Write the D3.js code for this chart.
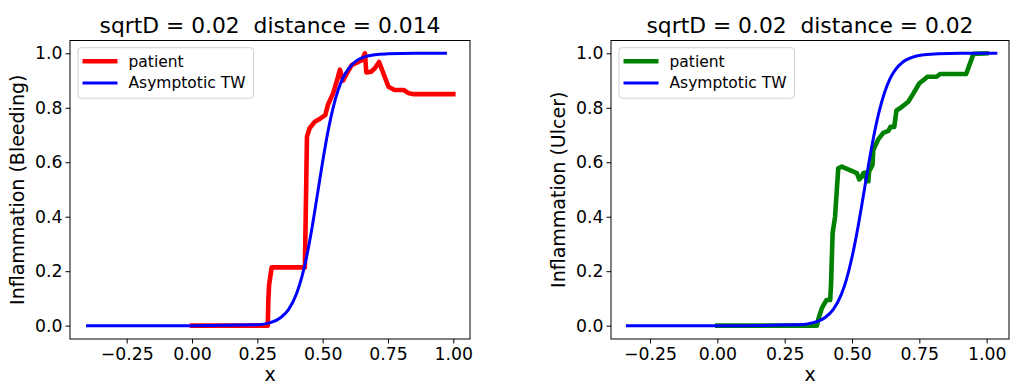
<!DOCTYPE html>
<html>
<head>
<meta charset="utf-8">
<script src="https://cdn.jsdelivr.net/npm/d3@7"></script>
<style>
  html, body { margin: 0; padding: 0; background: #fff; }
  svg { display: block; font-family: "DejaVu Sans", sans-serif; }
</style>
</head>
<body>
<svg id="chart" width="1010" height="383"></svg>
<script>
// ---------- data ----------
const titles = ["sqrtD = 0.02  distance = 0.014", "sqrtD = 0.02  distance = 0.02"];
const yLabels = ["Inflammation (Bleeding)", "Inflammation (Ulcer)"];
const xLabel = "x";
const legendLabels = ["patient", "Asymptotic TW"];

const xTicks = [-0.25, 0, 0.25, 0.5, 0.75, 1.0];
const xTickLabels = ["\u22120.25", "0.00", "0.25", "0.50", "0.75", "1.00"];
const yTicks = [0, 0.2, 0.4, 0.6, 0.8, 1.0];
const yTickLabels = ["0.0", "0.2", "0.4", "0.6", "0.8", "1.0"];

// left panel: patient (Bleeding)
const bleedX = [0, 0.29, 0.292, 0.295, 0.305, 0.432, 0.436, 0.44, 0.45, 0.47, 0.49, 0.51, 0.52, 0.54, 0.555, 0.566, 0.578, 0.595, 0.611, 0.63, 0.65, 0.662, 0.667, 0.685, 0.70, 0.716, 0.735, 0.752, 0.775, 0.81, 0.83, 0.85, 1.0];
const bleedY = [0, 0, 0.09, 0.15, 0.214, 0.214, 0.45, 0.694, 0.725, 0.749, 0.76, 0.773, 0.81, 0.853, 0.90, 0.94, 0.90, 0.93, 0.957, 0.965, 0.975, 1.0, 0.93, 0.932, 0.945, 0.968, 0.92, 0.877, 0.865, 0.865, 0.853, 0.85, 0.85];
// left panel: asymptotic travelling wave
const twLeftX = [-0.4, 0.0, 0.25, 0.30, 0.34, 0.37, 0.40, 0.42, 0.44, 0.46, 0.48, 0.50, 0.52, 0.54, 0.56, 0.58, 0.60, 0.63, 0.66, 0.70, 0.75, 0.85, 0.97];
const twLeftY = [0, 0, 0.003, 0.011, 0.030, 0.060, 0.117, 0.177, 0.259, 0.363, 0.482, 0.602, 0.711, 0.800, 0.867, 0.914, 0.945, 0.973, 0.987, 0.995, 0.998, 1.0, 1.0];

// right panel: patient (Ulcer)
const ulcerX = [0, 0.37, 0.375, 0.388, 0.405, 0.419, 0.422, 0.428, 0.437, 0.449, 0.462, 0.518, 0.527, 0.535, 0.542, 0.548, 0.555, 0.561, 0.563, 0.576, 0.579, 0.598, 0.616, 0.635, 0.643, 0.657, 0.665, 0.678, 0.709, 0.728, 0.75, 0.77, 0.78, 0.814, 0.827, 0.924, 0.951, 1.0];
const ulcerY = [0, 0, 0.025, 0.064, 0.094, 0.094, 0.15, 0.34, 0.40, 0.578, 0.584, 0.56, 0.537, 0.545, 0.56, 0.562, 0.53, 0.53, 0.565, 0.59, 0.645, 0.685, 0.708, 0.715, 0.73, 0.73, 0.79, 0.798, 0.822, 0.853, 0.89, 0.905, 0.914, 0.914, 0.924, 0.924, 0.998, 1.0];
// right panel: asymptotic travelling wave
const twRightX = [-0.334, 0.0, 0.30, 0.36, 0.40, 0.43, 0.46, 0.48, 0.50, 0.52, 0.54, 0.56, 0.58, 0.60, 0.62, 0.64, 0.66, 0.69, 0.72, 0.76, 0.82, 0.90, 1.034];
const twRightY = [0, 0, 0.003, 0.012, 0.030, 0.059, 0.114, 0.172, 0.251, 0.350, 0.464, 0.583, 0.692, 0.783, 0.853, 0.904, 0.938, 0.969, 0.984, 0.994, 0.998, 1.0, 1.0];

const patientColors = ["#ff0000", "#008000"];
const twColor = "#0000ff";

// ---------- layout ----------
const panels = [
  { left: 70, right: 470, xDomain: [-0.467, 1.064], px: bleedX, py: bleedY, tx: twLeftX, ty: twLeftY },
  { left: 611, right: 1009, xDomain: [-0.395, 1.083], px: ulcerX, py: ulcerY, tx: twRightX, ty: twRightY }
];
const plotTop = 40.5, plotBottom = 339;
const yDomain = [-0.049, 1.047];

const svg = d3.select("#chart");

panels.forEach((p, i) => {
  const x = d3.scaleLinear().domain(p.xDomain).range([p.left, p.right]);
  const y = d3.scaleLinear().domain(yDomain).range([plotBottom, plotTop]);
  const g = svg.append("g");

  const clipId = "clip" + i;
  g.append("clipPath").attr("id", clipId).append("rect")
    .attr("x", p.left).attr("y", plotTop).attr("width", p.right - p.left).attr("height", plotBottom - plotTop);

  const plot = g.append("g").attr("clip-path", `url(#${clipId})`);

  plot.append("path")
    .datum(p.px.map((v, k) => [v, p.py[k]]))
    .attr("d", d3.line().x(d => x(d[0])).y(d => y(d[1])))
    .attr("fill", "none").attr("stroke", patientColors[i])
    .attr("stroke-width", 4.6).attr("stroke-linejoin", "round").attr("stroke-linecap", "square");

  plot.append("path")
    .datum(p.tx.map((v, k) => [v, p.ty[k]]))
    .attr("d", d3.line().x(d => x(d[0])).y(d => y(d[1])).curve(d3.curveMonotoneX))
    .attr("fill", "none").attr("stroke", twColor)
    .attr("stroke-width", 3).attr("stroke-linejoin", "round").attr("stroke-linecap", "square");

  // axes
  const xAxis = d3.axisBottom(x).tickValues(xTicks).tickFormat((d, k) => xTickLabels[k]).tickSize(4.5).tickPadding(4.5);
  const yAxis = d3.axisLeft(y).tickValues(yTicks).tickFormat((d, k) => yTickLabels[k]).tickSize(4.5).tickPadding(3);

  const gx = g.append("g").attr("transform", `translate(0,${plotBottom})`).call(xAxis);
  const gy = g.append("g").attr("transform", `translate(${p.left},0)`).call(yAxis);
  [gx, gy].forEach(a => {
    a.select(".domain").remove();
    a.selectAll("line").attr("stroke", "#000").attr("stroke-width", 1);
    a.selectAll("text").attr("font-size", 17.3).attr("font-family", "DejaVu Sans").attr("fill", "#000");
  });

  // frame
  g.append("rect").attr("x", p.left).attr("y", plotTop).attr("width", p.right - p.left).attr("height", plotBottom - plotTop)
    .attr("fill", "none").attr("stroke", "#000").attr("stroke-width", 1);

  // title
  g.append("text").attr("x", (p.left + p.right) / 2).attr("y", 33)
    .attr("text-anchor", "middle").attr("font-size", 21.8).attr("fill", "#000")
    .attr("xml:space", "preserve").style("white-space", "pre").text(titles[i]);

  // x label
  g.append("text").attr("x", (p.left + p.right) / 2).attr("y", 380.5)
    .attr("text-anchor", "middle").attr("font-size", 19).attr("fill", "#000").text(xLabel);

  // y label
  const ylx = p.left - 46, yly = (plotTop + plotBottom) / 2;
  g.append("text").attr("transform", `translate(${ylx},${yly}) rotate(-90)`)
    .attr("text-anchor", "middle").attr("font-size", 19).attr("fill", "#000").text(yLabels[i]);

  // legend
  const lx = p.left + 8, ly = 47.7;
  const lg = g.append("g");
  lg.append("rect").attr("x", lx).attr("y", ly).attr("width", 175.5).attr("height", 50.5)
    .attr("rx", 3).attr("fill", "#fff").attr("fill-opacity", 0.8).attr("stroke", "#d0d0d0").attr("stroke-width", 1);
  const items = [
    { label: legendLabels[0], color: patientColors[i], w: 4.6 },
    { label: legendLabels[1], color: twColor, w: 3 }
  ];
  items.forEach((it, k) => {
    const cy = 61.3 + k * 21.7;
    lg.append("line").attr("x1", lx + 4.5).attr("x2", lx + 39.5).attr("y1", cy).attr("y2", cy)
      .attr("stroke", it.color).attr("stroke-width", it.w);
    lg.append("text").attr("x", lx + 50.5).attr("y", cy).attr("dy", "0.35em")
      .attr("font-size", 15.5).attr("fill", "#000").text(it.label);
  });
});
</script>
</body>
</html>
